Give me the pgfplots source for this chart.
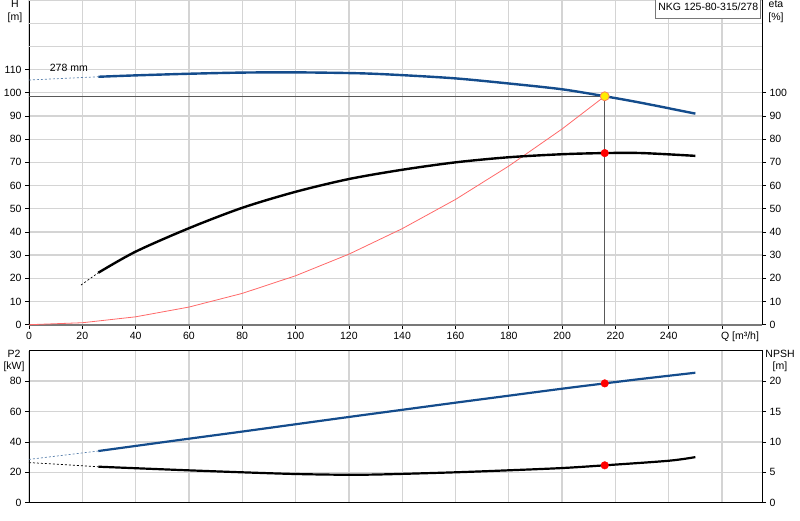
\documentclass[border=0pt]{standalone}
\usepackage{fontspec}
\setmainfont{Liberation Sans}
\usepackage{pgfplots}
\pgfplotsset{compat=1.18}
\definecolor{hblue}{RGB}{20,76,140}
\definecolor{gridc}{RGB}{212,212,212}
\definecolor{sysred}{RGB}{255,105,105}
\definecolor{frameg}{RGB}{120,120,120}

\pgfplotsset{
  base/.style={
    scale only axis, width=733pt, xmin=0, xmax=275,
    anchor=south west,
    /pgf/number format/assume math mode=true,
    xtick={0,20,...,260},
    tick style={black, line width=0.6pt},
    major tick length=4pt,
    tick align=outside,
    y axis line style={black, line width=0.8pt},
    clip=false,
  },
  grd/.style={grid=major, major grid style={gridc, line width=1.3pt}},
}

\begin{document}
\begin{tikzpicture}[x=1pt, y=1pt, font=\fontsize{10.5}{12.5}\selectfont]
\useasboundingbox (0,0) rectangle (800,520);

% upper panel: H (left) and eta (right)
\begin{axis}[base, grd, at={(29pt,195.3pt)}, height=324.7pt,
  ymin=0, ymax=140,
  axis x line*=bottom, axis y line*=left,
  x axis line style={frameg, line width=1.6pt},
  ytick={0,10,...,110},
  extra y ticks={120,130,140}, extra y tick labels={},
  extra y tick style={major tick length=0pt, grid=major},
  xticklabels={0,20,40,60,80,100,120,140,160,180,200,220,240,{\makebox[0pt][l]{\hspace{-1pt}Q [m³/h]}}},
]
\addplot[sysred, line width=0.8pt] coordinates {
(0,0) (20,0.85) (40,3.4) (60,7.6) (80,13.5) (100,21.1) (120,30.4)
(140,41.4) (160,54.0) (180,68.4) (200,84.4) (216,98.5)};
\addplot[black!65, line width=0.8pt] coordinates {(0,98.5) (216,98.5)};
\addplot[black!65, line width=0.8pt] coordinates {(216,98.5) (216,0)};
\addplot[hblue!70, dashed, line width=0.7pt, dash pattern=on 2pt off 2pt] coordinates {(0,105.5) (26,106.9)};
\addplot[hblue, line width=2.4pt, smooth] coordinates {
(26,106.9) (40,107.5) (60,108.2) (80,108.7) (100,108.8) (124,108.4)
(140,107.6) (160,106.2) (180,104.0) (200,101.5) (216,98.5) (230,95.6) (250,91.0)};
\addplot[only marks, mark=*, mark size=4.5pt,
  mark options={fill=yellow!95!orange, draw={rgb,255:red,250;green,130;blue,90}, line width=0.8pt}]
  coordinates {(216,98.5)};
\node[anchor=west] at (axis cs:6.5,110.6) {278 mm};
\end{axis}

\begin{axis}[base, at={(29pt,195.3pt)}, height=324.7pt,
  ymin=0, ymax=140,
  axis x line=none, axis y line*=right,
  ytick={0,10,...,100},
]
\addplot[black, dashed, line width=0.7pt, dash pattern=on 2pt off 2pt] coordinates {(19.5,17.1) (26,22.4)};
\addplot[black, line width=2.4pt, smooth] coordinates {
(26,22.4) (40,31.5) (60,41.6) (80,50.4) (100,57.3) (120,62.8) (140,66.8)
(160,70.0) (180,72.2) (200,73.5) (216,74.0) (230,74.0) (250,72.8)};
\addplot[only marks, mark=*, mark size=3.8pt, mark options={fill=red, draw=red}]
  coordinates {(216,74.0)};
\end{axis}

% lower panel: P2 (left) and NPSH (right)
\begin{axis}[base, grd, at={(29pt,17.3pt)}, height=152pt,
  ymin=0, ymax=100,
  xtick pos=bottom, ytick pos=left,
  x axis line style={frameg, line width=1.4pt},
  xticklabels={}, xtick style={draw=none},
  ytick={0,20,...,80},
]
\addplot[hblue!70, dashed, line width=0.7pt, dash pattern=on 2pt off 2pt] coordinates {(0,28.5) (26,34.0)};
\addplot[hblue, line width=2.2pt, smooth] coordinates {
(26,34.0) (56.6,41.3) (80,46.8) (100,51.6) (120,56.4) (140,61.1) (160,65.8)
(180,70.4) (200,75.0) (216,78.5) (230,81.5) (250,85.5)};
\addplot[only marks, mark=*, mark size=3.8pt, mark options={fill=red, draw=red}]
  coordinates {(216,78.5)};
\end{axis}

\begin{axis}[base, at={(29pt,17.3pt)}, height=152pt,
  ymin=0, ymax=25,
  axis x line=none, axis y line*=right,
  ytick={0,5,...,20},
]
\addplot[black, dashed, line width=0.7pt, dash pattern=on 2pt off 2pt] coordinates {(0,6.6) (26,5.92)};
\addplot[black, line width=2.2pt, smooth] coordinates {
(26,5.92) (56.6,5.38) (80,5.0) (100,4.72) (118,4.6) (132,4.65) (160,5.0)
(180,5.33) (200,5.7) (216,6.15) (240,6.9) (250,7.5)};
\addplot[only marks, mark=*, mark size=3.8pt, mark options={fill=red, draw=red}]
  coordinates {(216,6.15)};
\end{axis}

% axis titles and type box
\node[align=center, inner sep=0pt] at (15,508.5) {H\\{[m]}};
\node[align=center, inner sep=0pt] at (776,508.5) {eta\\{[\%]}};
\node[align=center, inner sep=0pt] at (14,159) {P2\\{[kW]}};
\node[align=center, inner sep=0pt] at (780,159) {NPSH\\{[m]}};
\node[draw=frameg, fill=white, line width=0.7pt, anchor=south east,
  minimum height=24pt, inner xsep=2.5pt] at (761,501) {NKG 125-80-315/278};
\end{tikzpicture}
\end{document}
